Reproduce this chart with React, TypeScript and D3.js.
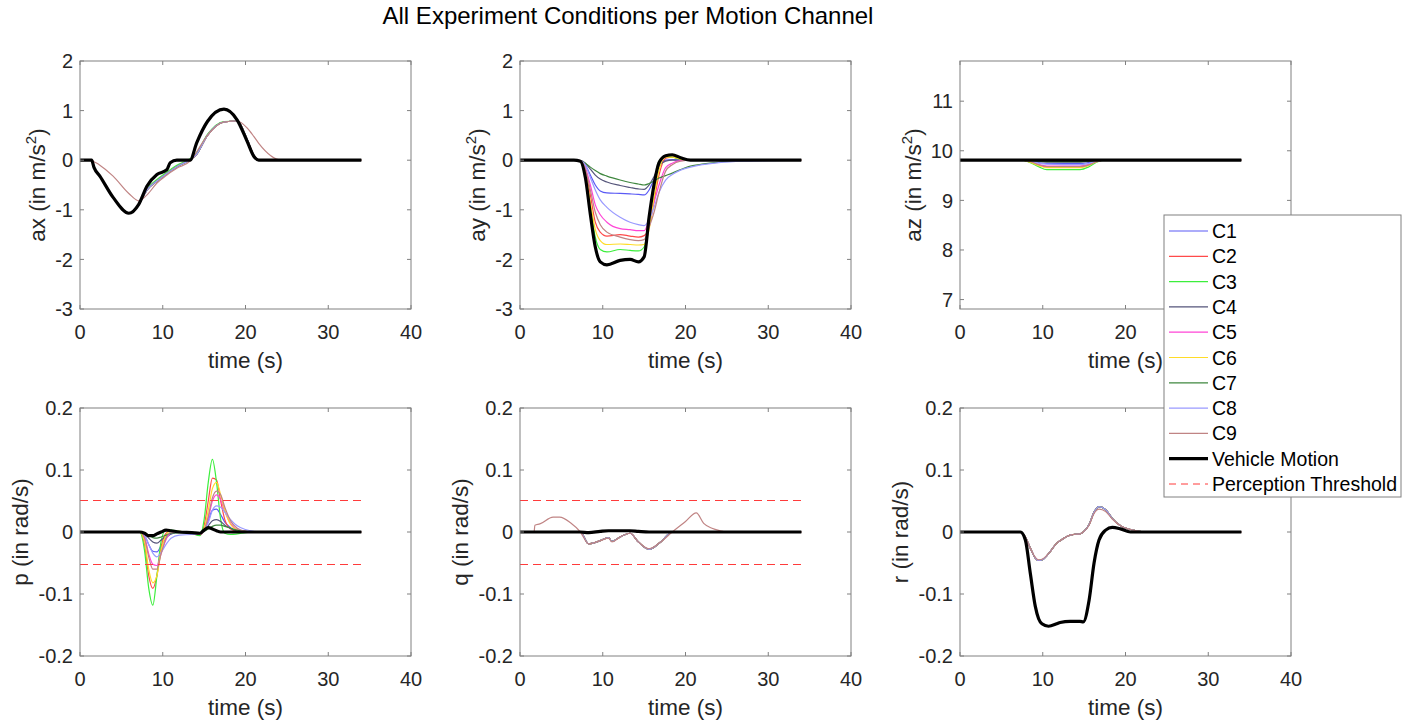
import React from "react";
import * as d3 from "d3";

// ---- data ----
const condNames = ["C1", "C2", "C3", "C4", "C5", "C6", "C7", "C8", "C9"];
const condColors = ["#5a5af5", "#ff4a4a", "#3cee3c", "#55557a", "#ff45d6", "#ffdc28", "#3f873f", "#9a9aff", "#c08484"];
const thresholdValue = 0.0524;
const xTicks = [0, 10, 20, 30, 40];

// ax
const axTime = [0, 1.4, 1.7, 2.4, 4, 5.9, 7.1, 8.1, 9.3, 10.5, 10.9, 11.7, 13.3, 14.1, 15.4, 17.4, 19, 20.2, 21, 21.6, 24.4, 34];
const axVehicle = [0, 0, -0.15, -0.32, -0.75, -1.07, -0.89, -0.52, -0.29, -0.19, -0.05, 0, 0, 0.35, 0.78, 1.03, 0.81, 0.38, 0.08, 0, 0, 0];
const axCond = [0, 0, -0.15, -0.32, -0.75, -1.07, -0.89, -0.6, -0.42, -0.27, -0.22, -0.13, 0.01, 0.12, 0.5, 0.77, 0.79, 0.42, 0.1, 0, 0, 0];
const axCondGreen = [0, 0, -0.15, -0.32, -0.75, -1.07, -0.89, -0.58, -0.39, -0.24, -0.19, -0.1, 0.03, 0.15, 0.52, 0.78, 0.79, 0.42, 0.1, 0, 0, 0];
const axC9 = [0, 0, -0.03, -0.1, -0.32, -0.67, -0.82, -0.7, -0.46, -0.3, -0.25, -0.16, -0.02, 0.17, 0.5, 0.77, 0.79, 0.65, 0.48, 0.34, 0, 0];

// ay
const ayTime = [0, 6.5, 7.3, 7.9, 8.5, 9.1, 9.7, 10.5, 12.1, 13.3, 14.3, 15, 15.6, 16.2, 16.8, 17.6, 18.4, 19.4, 20.6, 22, 24, 27, 30, 34];
const ayVehicle = [0, 0, -0.02, -0.35, -1.09, -1.75, -2.05, -2.11, -2.02, -2.0, -2.05, -1.95, -1.15, -0.49, -0.05, 0.09, 0.11, 0.05, 0, 0, 0, 0, 0, 0];
const ayC1 = [0, 0, -0.01, -0.1, -0.3, -0.5, -0.62, -0.66, -0.67, -0.68, -0.69, -0.7, -0.6, -0.38, -0.12, 0, 0.01, 0, 0, 0, 0, 0, 0, 0];
const ayC2 = [0, 0, -0.01, -0.2, -0.7, -1.25, -1.45, -1.53, -1.5, -1.53, -1.55, -1.52, -1.35, -0.82, -0.3, 0.04, 0.06, 0.02, 0, 0, 0, 0, 0, 0];
const ayC3 = [0, 0, -0.02, -0.3, -0.95, -1.55, -1.8, -1.85, -1.8, -1.82, -1.83, -1.75, -1.2, -0.5, -0.02, 0.08, 0.06, 0.02, 0, 0, 0, 0, 0, 0];
const ayC4 = [0, 0, -0.01, -0.06, -0.18, -0.3, -0.38, -0.44, -0.51, -0.55, -0.58, -0.59, -0.5, -0.33, -0.12, -0.02, 0, 0, 0, 0, 0, 0, 0, 0];
const ayC5 = [0, 0, -0.01, -0.15, -0.5, -0.9, -1.1, -1.25, -1.38, -1.4, -1.42, -1.42, -1.2, -0.85, -0.5, -0.15, -0.06, -0.01, 0, 0, 0, 0, 0, 0];
const ayC6 = [0, 0, -0.02, -0.25, -0.85, -1.4, -1.62, -1.7, -1.69, -1.7, -1.71, -1.7, -1.4, -0.75, -0.2, 0.06, 0.06, 0.02, 0, 0, 0, 0, 0, 0];
const ayC7 = [0, 0, -0.01, -0.06, -0.14, -0.21, -0.27, -0.32, -0.4, -0.45, -0.48, -0.5, -0.47, -0.42, -0.36, -0.31, -0.26, -0.19, -0.12, -0.08, -0.04, -0.01, 0, 0];
const ayC8 = [0, 0, -0.01, -0.1, -0.35, -0.6, -0.8, -0.95, -1.15, -1.25, -1.3, -1.32, -1.2, -0.95, -0.65, -0.4, -0.29, -0.2, -0.14, -0.09, -0.05, -0.02, -0.01, 0];
const ayC9 = [0, 0, -0.01, -0.18, -0.6, -1.05, -1.3, -1.45, -1.55, -1.6, -1.62, -1.6, -1.35, -1.05, -0.65, -0.22, -0.09, -0.02, 0, 0, 0, 0, 0, 0];

// az
const azTime = [0, 7.5, 8.5, 9.5, 10.5, 12.5, 14.5, 15.5, 16.5, 17.5, 19, 34];
const azVehicle = [9.81, 9.81, 9.81, 9.81, 9.81, 9.81, 9.81, 9.81, 9.81, 9.81, 9.81, 9.81];
const azC1 = [9.81, 9.81, 9.79, 9.76, 9.74, 9.74, 9.74, 9.76, 9.79, 9.81, 9.81, 9.81];
const azC2 = [9.81, 9.81, 9.77, 9.71, 9.67, 9.67, 9.67, 9.71, 9.78, 9.81, 9.81, 9.81];
const azC3 = [9.81, 9.81, 9.76, 9.68, 9.62, 9.62, 9.62, 9.67, 9.77, 9.81, 9.81, 9.81];
const azC4 = [9.81, 9.81, 9.8, 9.78, 9.77, 9.77, 9.77, 9.78, 9.8, 9.81, 9.81, 9.81];
const azC5 = [9.81, 9.81, 9.78, 9.72, 9.69, 9.69, 9.69, 9.72, 9.78, 9.81, 9.81, 9.81];
const azC6 = [9.81, 9.81, 9.77, 9.7, 9.66, 9.66, 9.66, 9.7, 9.78, 9.81, 9.81, 9.81];
const azC7 = [9.81, 9.81, 9.8, 9.79, 9.78, 9.78, 9.78, 9.79, 9.8, 9.81, 9.81, 9.81];
const azC8 = [9.81, 9.81, 9.79, 9.75, 9.73, 9.72, 9.72, 9.74, 9.79, 9.81, 9.81, 9.81];
const azC9 = [9.81, 9.81, 9.78, 9.72, 9.68, 9.68, 9.68, 9.71, 9.78, 9.81, 9.81, 9.81];

// p
const pTime = [0, 7.2, 7.8, 8.3, 8.8, 9.3, 9.8, 10.4, 11, 12, 13.5, 14.5, 15, 15.5, 16, 16.5, 17, 17.5, 18.2, 19, 20, 21, 22, 34];
const pVehicle = [0, 0, -0.002, -0.006, -0.006, -0.003, 0, 0.003, 0.002, 0, -0.001, -0.002, 0.003, 0.007, 0.005, 0.002, 0, 0, 0, 0, 0, 0, 0, 0];
const pC1 = [0, 0, -0.005, -0.02, -0.031, -0.032, -0.022, -0.01, -0.003, 0, -0.002, -0.003, 0.003, 0.018, 0.035, 0.037, 0.028, 0.016, 0.007, 0.002, 0, 0, 0, 0];
const pC2 = [0, 0, -0.02, -0.07, -0.091, -0.07, -0.025, -0.002, 0.002, 0.001, -0.002, -0.005, 0.01, 0.05, 0.087, 0.084, 0.05, 0.02, 0.005, 0.001, 0, 0, 0, 0];
const pC3 = [0, 0, -0.03, -0.09, -0.118, -0.07, -0.015, 0.004, 0.003, 0.001, -0.002, -0.006, 0.02, 0.08, 0.117, 0.08, 0.02, -0.002, -0.004, -0.003, -0.001, 0, 0, 0];
const pC4 = [0, 0, -0.002, -0.01, -0.016, -0.018, -0.013, -0.007, -0.003, -0.001, -0.001, -0.002, 0.002, 0.01, 0.018, 0.02, 0.017, 0.011, 0.006, 0.002, 0.001, 0, 0, 0];
const pC5 = [0, 0, -0.008, -0.035, -0.052, -0.054, -0.035, -0.012, -0.002, 0, -0.002, -0.004, 0.003, 0.022, 0.05, 0.06, 0.052, 0.033, 0.014, 0.004, 0.001, 0, 0, 0];
const pC6 = [0, 0, -0.015, -0.06, -0.082, -0.07, -0.03, -0.005, 0.002, 0.001, -0.002, -0.004, 0.005, 0.035, 0.07, 0.08, 0.06, 0.035, 0.012, 0.003, 0, 0, 0, 0];
const pC7 = [0, 0, -0.001, -0.005, -0.009, -0.01, -0.008, -0.005, -0.002, -0.001, -0.001, -0.001, 0.001, 0.005, 0.009, 0.011, 0.011, 0.009, 0.006, 0.003, 0.001, 0, 0, 0];
const pC8 = [0, 0, -0.005, -0.02, -0.034, -0.04, -0.033, -0.02, -0.01, -0.005, -0.004, -0.004, 0.002, 0.015, 0.035, 0.042, 0.04, 0.032, 0.02, 0.01, 0.004, 0.001, 0, 0];
const pC9 = [0, 0, -0.01, -0.04, -0.06, -0.06, -0.035, -0.01, 0, 0, -0.002, -0.004, 0.003, 0.025, 0.055, 0.066, 0.06, 0.04, 0.018, 0.006, 0.001, 0, 0, 0];

// q
const qTime = [0, 1.7, 1.8, 2.4, 4, 4.8, 6.1, 7.3, 8.3, 9.7, 10.7, 11.1, 12.1, 13.3, 14.3, 15.6, 17, 18.4, 20, 21.3, 22.2, 23.2, 24.2, 25, 34];
const qVehicle = [0, 0, 0, 0, 0, 0, 0, 0, -0.001, 0.001, 0.002, 0.002, 0.002, 0.002, 0.001, 0, 0, 0, 0, 0, 0, 0, 0, 0, 0];
const qCond = [0, 0, 0, 0, 0, 0, 0, 0, -0.019, -0.014, -0.009, -0.015, -0.008, -0.002, -0.016, -0.028, -0.016, 0, 0, 0, 0, 0, 0, 0, 0];
const qC9 = [0, 0, 0.011, 0.013, 0.024, 0.024, 0.015, 0, -0.019, -0.014, -0.01, -0.016, -0.008, -0.002, -0.016, -0.027, -0.016, 0, 0.017, 0.031, 0.014, 0.006, 0.002, 0, 0];

// r
const rTime = [0, 7.3, 7.9, 8.5, 9.1, 9.5, 9.9, 10.7, 11.7, 12.1, 13.3, 13.7, 14.5, 14.9, 15.6, 16.2, 16.8, 17.6, 18.4, 19.4, 20.6, 22.6, 34];
const rVehicle = [0, 0, -0.013, -0.067, -0.12, -0.14, -0.148, -0.152, -0.148, -0.146, -0.144, -0.144, -0.144, -0.145, -0.11, -0.05, -0.013, 0.003, 0.0075, 0.005, 0, 0, 0];
const rCond = [0, 0, -0.008, -0.026, -0.042, -0.046, -0.045, -0.035, -0.018, -0.014, -0.005, -0.004, -0.003, 0, 0.012, 0.032, 0.041, 0.036, 0.022, 0.01, 0.004, 0, 0];
const rC9 = [0, 0, -0.008, -0.026, -0.041, -0.045, -0.044, -0.035, -0.018, -0.014, -0.005, -0.004, -0.003, 0, 0.011, 0.03, 0.037, 0.033, 0.021, 0.01, 0.004, 0, 0];

const axTicks = [-3, -2, -1, 0, 1, 2];
const azTicks = [7, 8, 9, 10, 11];
const rateTicks = [-0.2, -0.1, 0, 0.1, 0.2];

type PanelDef = {
  key: string;
  label: string;
  sup?: string;
  time: number[];
  vehicle: number[];
  conds: number[][];
  domain: [number, number];
  ticks: number[];
  threshold: boolean;
  col: number;
  row: number;
  labelOffset: number;
};

const panels: PanelDef[] = [
  { key: "ax", label: "ax (in m/s", sup: "2", time: axTime, vehicle: axVehicle,
    conds: [axCond, axCond, axCondGreen, axCond, axCond, axCond, axCond, axCond, axC9],
    domain: [-3, 2], ticks: axTicks, threshold: false, col: 0, row: 0, labelOffset: 35 },
  { key: "ay", label: "ay (in m/s", sup: "2", time: ayTime, vehicle: ayVehicle,
    conds: [ayC1, ayC2, ayC3, ayC4, ayC5, ayC6, ayC7, ayC8, ayC9],
    domain: [-3, 2], ticks: axTicks, threshold: false, col: 1, row: 0, labelOffset: 35 },
  { key: "az", label: "az (in m/s", sup: "2", time: azTime, vehicle: azVehicle,
    conds: [azC1, azC2, azC3, azC4, azC5, azC6, azC7, azC8, azC9],
    domain: [6.81, 11.81], ticks: azTicks, threshold: false, col: 2, row: 0, labelOffset: 39 },
  { key: "p", label: "p (in rad/s)", time: pTime, vehicle: pVehicle,
    conds: [pC1, pC2, pC3, pC4, pC5, pC6, pC7, pC8, pC9],
    domain: [-0.2, 0.2], ticks: rateTicks, threshold: true, col: 0, row: 1, labelOffset: 52 },
  { key: "q", label: "q (in rad/s)", time: qTime, vehicle: qVehicle,
    conds: [qCond, qCond, qCond, qCond, qCond, qCond, qCond, qCond, qC9],
    domain: [-0.2, 0.2], ticks: rateTicks, threshold: true, col: 1, row: 1, labelOffset: 52 },
  { key: "r", label: "r (in rad/s)", time: rTime, vehicle: rVehicle,
    conds: [rCond, rCond, rCond, rCond, rCond, rCond, rCond, rCond, rC9],
    domain: [-0.2, 0.2], ticks: rateTicks, threshold: false, col: 2, row: 1, labelOffset: 52 },
];

const FONT = "'Liberation Sans', Arial, Helvetica, sans-serif";
const colLeft = [80, 520, 960];
const rowTop = [61, 408];
const plotW = 331;
const plotH = 248;
const axisColor = "#808080";
const textColor = "#262626";
const thresholdColor = "#ff3b3b";

const fmt = (v: number) => {
  const r = Math.round(v * 100) / 100;
  return r === 0 ? "0" : String(r);
};

function Panel({ def }: { def: PanelDef }) {
  const x0 = colLeft[def.col];
  const y0 = rowTop[def.row];
  const x = d3.scaleLinear().domain([0, 40]).range([x0, x0 + plotW]);
  const y = d3.scaleLinear().domain(def.domain).range([y0 + plotH, y0]);
  const line = d3
    .line<number>()
    .x((_, i) => x(def.time[i]))
    .y((d) => y(d))
    .curve(d3.curveMonotoneX);
  const clipId = `clip-${def.key}`;
  const tickLen = 4;
  return (
    <g>
      <defs>
        <clipPath id={clipId}>
          <rect x={x0} y={y0} width={plotW} height={plotH} />
        </clipPath>
      </defs>
      <rect x={x0} y={y0} width={plotW} height={plotH} fill="#fff" />
      <g clipPath={`url(#${clipId})`}>
        {def.conds.map((c, i) => (
          <path key={i} d={line(c) || ""} fill="none" stroke={condColors[i]} strokeWidth={1.2} />
        ))}
        <path d={line(def.vehicle) || ""} fill="none" stroke="#000" strokeWidth={3.2} strokeLinejoin="round" />
        {def.threshold &&
          [thresholdValue, -thresholdValue].map((v, i) => (
            <line
              key={i}
              x1={x(0)}
              x2={x(34)}
              y1={Math.round(y(v)) + 0.5}
              y2={Math.round(y(v)) + 0.5}
              stroke={thresholdColor}
              strokeWidth={1}
              strokeDasharray="8,5"
            />
          ))}
      </g>
      <rect x={x0} y={y0} width={plotW} height={plotH} fill="none" stroke={axisColor} strokeWidth={1} />
      {xTicks.map((t) => (
        <g key={t}>
          <line x1={x(t)} x2={x(t)} y1={y0 + plotH} y2={y0 + plotH - tickLen} stroke={axisColor} />
          <line x1={x(t)} x2={x(t)} y1={y0} y2={y0 + tickLen} stroke={axisColor} />
          <text x={x(t)} y={y0 + plotH + 30} textAnchor="middle" fontSize={20} fill={textColor}>
            {t}
          </text>
        </g>
      ))}
      {def.ticks.map((t) => (
        <g key={t}>
          <line x1={x0} x2={x0 + tickLen} y1={y(t)} y2={y(t)} stroke={axisColor} />
          <line x1={x0 + plotW} x2={x0 + plotW - tickLen} y1={y(t)} y2={y(t)} stroke={axisColor} />
          <text x={x0 - 7} y={y(t)} dy="0.36em" textAnchor="end" fontSize={20} fill={textColor}>
            {fmt(t)}
          </text>
        </g>
      ))}
      <text x={x0 + plotW / 2} y={y0 + plotH + 59} textAnchor="middle" fontSize={22.5} fill={textColor}>
        time (s)
      </text>
      <text
        transform={`translate(${x0 - def.labelOffset},${y0 + plotH / 2}) rotate(-90)`}
        textAnchor="middle"
        fontSize={22.5}
        fill={textColor}
      >
        {def.label}
        {def.sup && (
          <>
            <tspan dy={-9} fontSize={15}>{def.sup}</tspan>
            <tspan dy={9}>)</tspan>
          </>
        )}
      </text>
    </g>
  );
}

function Legend() {
  const left = 1164;
  const top = 215;
  const w = 237;
  const h = 282;
  const rowY = d3.scaleLinear().domain([0, 10]).range([231, 484]);
  const entries = [
    ...condNames.map((n, i) => ({ name: n, color: condColors[i], width: 1.2, dash: undefined as string | undefined })),
    { name: "Vehicle Motion", color: "#000", width: 3.2, dash: undefined },
    { name: "Perception Threshold", color: thresholdColor, width: 1, dash: "7,5" },
  ];
  return (
    <g>
      <rect x={left} y={top} width={w} height={h} fill="#fff" stroke={axisColor} strokeWidth={1} />
      {entries.map((e, i) => (
        <g key={e.name}>
          <line x1={left + 5} x2={left + 44} y1={rowY(i)} y2={rowY(i)} stroke={e.color} strokeWidth={e.width} strokeDasharray={e.dash} />
          <text x={left + 48} y={rowY(i)} dy="0.36em" fontSize={19.5} fill="#000">
            {e.name}
          </text>
        </g>
      ))}
    </g>
  );
}

export default function App() {
  return (
    <svg
      width={1427}
      height={727}
      style={{ position: "absolute", left: 0, top: 0, background: "#fff", fontFamily: FONT }}
    >
      <rect width={1427} height={727} fill="#fff" />
      <text x={628} y={24} textAnchor="middle" fontSize={24} fill="#000">
        All Experiment Conditions per Motion Channel
      </text>
      {panels.map((p) => (
        <Panel key={p.key} def={p} />
      ))}
      <Legend />
    </svg>
  );
}
